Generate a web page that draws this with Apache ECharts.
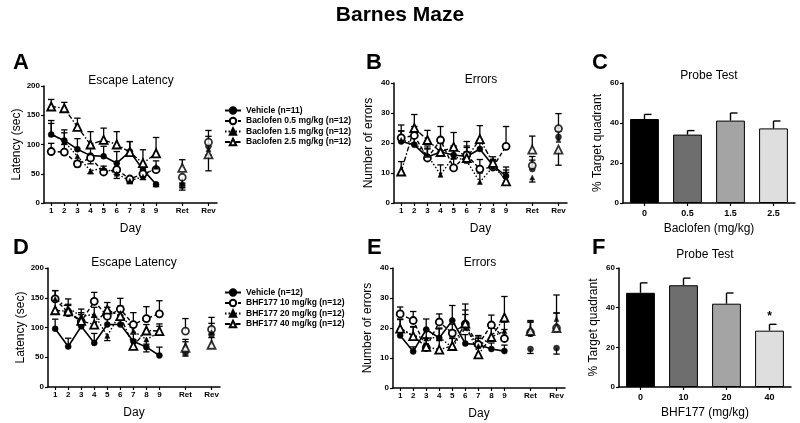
<!DOCTYPE html>
<html><head><meta charset="utf-8">
<script src="https://cdn.jsdelivr.net/npm/echarts@6/dist/echarts.min.js"></script>
<style>html,body{margin:0;padding:0;background:#fff}#c{width:800px;height:423px}</style>
</head><body><div id="c"></div>
<script>
// ---------- data ----------
const dayLabels = ['1','2','3','4','5','6','7','8','9','Ret','Rev'];
const daySlots  = [1,2,3,4,5,6,7,8,9,11,13];

// Panel A: Baclofen escape latency (sec)
const bacNames = ['Vehicle (n=11)','Baclofen 0.5 mg/kg (n=12)','Baclofen 1.5 mg/kg (n=12)','Baclofen 2.5 mg/kg (n=12)'];
const vehA  = [117,107, 92, 81, 80, 68, 88, 57, 32, 30, 97];
const b05A  = [ 88, 87, 67, 77, 53, 57, 41, 50, 57, 44,104];
const b15A  = [118,105, 80, 55, 60, 50, 38, 45, 62, 34, 92];
const b25A  = [165,162,130,100,108,100, 87, 68, 85, 60, 83];
const vehSemA = [24, 18, 18, 17, 17, 20, 17, 10, -4, -8, 17];
const b05SemA = [14, 13, -5,-10, 10, -8, -6, -6, 15,-10, 20];
const b15SemA = [18, 15,-12, -5, -8, -8, -5, -5, -8, -8,-10];
const b25SemA = [12, 10, 15, 22, 20, 22, 18, 23, 27, 14,-28];

// Panel B: Baclofen number of errors
const vehB  = [20.5,19.4,15.3,17.0,16.0,15.5,18.0,12.5, 9.0,11.3,22.0];
const b05B  = [21.7,22.5,15.0,21.0,11.7,16.0,11.3,12.0,18.9,12.5,24.8];
const b15B  = [21.0,20.0,16.0, 9.4,15.5,14.0, 7.0,12.0, 8.0, 8.5,21.0];
const b25B  = [10.5,25.0,21.0,17.0,18.7,15.0,21.3,13.4, 7.2,17.8,17.8];
const vehSemB = [3.5,3,3,3,3,3,3,2,3,3,3];
const b05SemB = [4.3,3,3,4.5,3,3,3.2,2,6.6,3,5];
const b15SemB = [3,3,3,3.3,3,3,3,2,3,-1.5,3];
const b25SemB = [3.3,4.5,3.2,3,4.8,5.5,4.5,2,3,4.5,-5.2];

// Panel C: Baclofen probe test
const bacDoses = ['0','0.5','1.5','2.5'];
const bacProbe = [42.0,34.2,41.2,37.3];
const bacProbeSem = [2.3,2.0,3.8,3.7];
const bacSig = ['','','',''];

// Panel D: BHF177 escape latency (sec)
const bhfNames = ['Vehicle (n=12)','BHF177 10 mg/kg (n=12)','BHF177 20 mg/kg (n=12)','BHF177 40 mg/kg (n=12)'];
const vehD  = [ 98, 68,102, 74,105,105, 77, 67, 53, 57, 88];
const b10D  = [148,125,110,144,119,131,105,115,123, 94, 97];
const b20D  = [148,133,119,122, 86,124, 94, 80, 92, 70, 92];
const b40D  = [129,127,111,105,130,119, 69, 95, 94, 66, 71];
const vehSemD = [16,14,10,16,12,15,12,-8,14,-5,12];
const b10SemD = [14,12,12,15,15,18,20,20,22,21,20];
const b20SemD = [14,15,12,12,-8,12,12,-8,10,10,15];
const b40SemD = [18,12,14,12,12,12,10,10,12,10,12];

// Panel E: BHF177 number of errors
const vehE  = [17.5,12.2,19.5,16.7,22.5,14.8,14.5,13.0,12.3,13.0,13.3];
const b10E  = [24.7,22.5,13.5,22.0,18.3,21.3,14.5,21.0,16.5,18.5,20.0];
const b20E  = [20.0,17.5,16.5,17.0,13.5,20.0,14.0,17.0,19.0,18.0,23.0];
const b40E  = [19.8,17.3,13.7,12.8,14.0,21.5,11.2,17.0,23.5,19.0,20.0];
const vehSemE = [2,1.5,3.5,3,5,3,2,2,2,-1.5,-2];
const b10SemE = [2.3,3,3,2.7,3,6.7,3,3.3,3,4,5];
const b20SemE = [3,3,3,3,3,6,3,3,3,4,8];
const b40SemE = [3,3,3,3,3,3,3,3,7,3,5];

// Panel F: BHF177 probe test
const bhfDoses = ['0','10','20','40'];
const bhfProbe = [47.5,51.3,42.0,28.4];
const bhfProbeSem = [5.0,3.6,5.4,3.2];
const bhfSig = ['','','','*'];

// ---------- styling ----------
const FONT = '"Liberation Sans", Arial, Helvetica, sans-serif';
const barColors = ['#000000','#6e6e6e','#a4a4a4','#dedede'];
const styles = [
  {symbol:'circle',   size:6, open:false, line:'solid',       lw:1.6},
  {symbol:'circle',   size:7, open:true,  line:[4,2.5],       lw:1.4},
  {symbol:'triangle', size:5, open:false, line:[1.5,2],       lw:1.4},
  {symbol:'triangle', size:8, open:true,  line:[5,2,1.5,2],   lw:1.4}
];

function errRender(params, api) {
  const x = api.value(0), y = api.value(1), e = api.value(2);
  const p0 = api.coord([x, y]);
  const p1 = api.coord([x, y + e]);
  const w = 3.2;
  return {type:'group', children:[
    {type:'line', shape:{x1:p0[0],y1:p0[1],x2:p1[0],y2:p1[1]}, style:{stroke:'#000',lineWidth:1.3}},
    {type:'line', shape:{x1:p1[0]-w,y1:p1[1],x2:p1[0]+w,y2:p1[1]}, style:{stroke:'#000',lineWidth:1.3}}
  ]};
}

function lineGroup(names, valsList, semsList, ax) {
  const out = [];
  names.forEach((nm, k) => {
    const st = styles[k];
    const vals = valsList[k], sems = semsList[k];
    const pts = vals.map((v, i) => [daySlots[i], v]);
    const itemStyle = st.open
      ? {color:'#fff', borderColor:'#000', borderWidth:1.8}
      : {color:'#000', borderColor:'#000', borderWidth:0.5};
    out.push({type:'line', name:nm, xAxisIndex:ax, yAxisIndex:ax, z:4,
      data: pts.slice(0, 9), symbol:st.symbol, symbolSize:st.size, showAllSymbol:true,
      itemStyle, lineStyle:{color:'#000', width:st.lw, type:st.line}});
    out.push({type:'scatter', name:nm, xAxisIndex:ax, yAxisIndex:ax, z:4,
      data: pts.slice(9), symbol:st.symbol, symbolSize:st.size, itemStyle});
    out.push({type:'custom', name:nm, xAxisIndex:ax, yAxisIndex:ax, z:2, silent:true,
      renderItem: errRender, encode:{x:0, y:1},
      data: vals.map((v, i) => [daySlots[i], v, sems[i]])});
  });
  return out;
}

function barGroup(vals, sems, sig, ax) {
  return [
    {type:'bar', xAxisIndex:ax, yAxisIndex:ax, barWidth:'67%', z:2,
      data: vals.map((v, i) => ({value:v, itemStyle:{color:barColors[i], borderColor:'#000', borderWidth:1}}))},
    {type:'custom', xAxisIndex:ax, yAxisIndex:ax, z:3, silent:true, encode:{x:0, y:1},
      data: vals.map((v, i) => [i, v, sems[i]]),
      renderItem: function (params, api) {
        const x = api.value(0), y = api.value(1), e = api.value(2);
        const p0 = api.coord([x, y]), p1 = api.coord([x, y + e]);
        const w = 7;
        const ch = [
          {type:'line', shape:{x1:p0[0],y1:p0[1],x2:p1[0],y2:p1[1]}, style:{stroke:'#000',lineWidth:1.4}},
          {type:'line', shape:{x1:p1[0],y1:p1[1],x2:p1[0]+w,y2:p1[1]}, style:{stroke:'#000',lineWidth:1.4}}
        ];
        const s = sig[params.dataIndex];
        if (s) ch.push({type:'text', style:{text:s, x:p1[0], y:p1[1]-2, align:'center', verticalAlign:'bottom',
          font:'bold 12px ' + FONT, fill:'#000'}});
        return {type:'group', children:ch};
      }}
  ];
}

const axLine = {show:true, lineStyle:{color:'#000', width:1.5}};
const axTick = {show:true, length:3, lineStyle:{color:'#000', width:1.2}};
const axLabel = {color:'#000', fontSize:8, fontWeight:'bold', fontFamily:FONT, margin:4};
const nameStyle = {color:'#000', fontSize:12, fontFamily:FONT};

function dayXAxis(g) {
  return {gridIndex:g, type:'value', min:0.45, max:13.65,
    axisLine:axLine,
    axisTick:Object.assign({}, axTick, {customValues:daySlots}),
    axisLabel:Object.assign({}, axLabel, {customValues:daySlots,
      formatter: v => { const i = daySlots.indexOf(v); return i >= 0 ? dayLabels[i] : ''; }}),
    splitLine:{show:false},
    name:'Day', nameLocation:'middle', nameGap:20, nameTextStyle:nameStyle};
}
function catXAxis(g, cats, nm) {
  return {gridIndex:g, type:'category', data:cats,
    axisLine:axLine, axisTick:Object.assign({}, axTick, {alignWithLabel:true}),
    axisLabel:Object.assign({}, axLabel, {fontSize:9, margin:6}),
    name:nm, nameLocation:'middle', nameGap:20, nameTextStyle:nameStyle};
}
function yAx(g, max, interval, nm) {
  return {gridIndex:g, type:'value', min:0, max, interval,
    axisLine:axLine, axisTick:axTick, axisLabel:axLabel, splitLine:{show:false},
    name:nm, nameLocation:'middle', nameGap:19, nameTextStyle:nameStyle};
}

function ttl(text, left, top, size, weight, align) {
  return {text, left, top, padding:0, textAlign:align || 'left',
    textStyle:{fontSize:size, fontWeight:weight, fontFamily:FONT, color:'#000'}};
}

const legendStyle = {orient:'vertical', itemWidth:16, itemHeight:8, itemGap:1.5, selectedMode:false,
  textStyle:{fontSize:8.5, fontWeight:'bold', fontFamily:FONT, color:'#000'}, padding:0};

const option = {
  animation:false,
  backgroundColor:'#fff',
  title:[
    ttl('Barnes Maze', 400, 5, 21, 'bold', 'center'),
    ttl('A', 13, 52, 22, 'bold'), ttl('B', 366, 52, 22, 'bold'), ttl('C', 592, 52, 22, 'bold'),
    ttl('D', 13, 237, 22, 'bold'), ttl('E', 367, 237, 22, 'bold'), ttl('F', 592, 237, 22, 'bold'),
    ttl('Escape Latency', 131, 75, 12, 'normal', 'center'),
    ttl('Errors', 481, 74, 12, 'normal', 'center'),
    ttl('Probe Test', 709, 70, 12, 'normal', 'center'),
    ttl('Escape Latency', 134, 257, 12, 'normal', 'center'),
    ttl('Errors', 480, 257, 12, 'normal', 'center'),
    ttl('Probe Test', 705, 249, 12, 'normal', 'center')
  ],
  legend:[
    Object.assign({left:224, top:106, data:bacNames}, legendStyle),
    Object.assign({left:224, top:288, data:bhfNames}, legendStyle)
  ],
  grid:[
    {left:44,  top:86,  width:173, height:117},
    {left:394, top:83,  width:173, height:120},
    {left:623, top:83,  width:172, height:120},
    {left:48,  top:268, width:172, height:119},
    {left:393, top:268, width:172, height:120},
    {left:619, top:268, width:172, height:119}
  ],
  xAxis:[
    dayXAxis(0), dayXAxis(1), catXAxis(2, bacDoses, 'Baclofen (mg/kg)'),
    dayXAxis(3), dayXAxis(4), catXAxis(5, bhfDoses, 'BHF177 (mg/kg)')
  ],
  yAxis:[
    yAx(0, 200, 50, 'Latency (sec)'), yAx(1, 40, 10, 'Number of errors'), yAx(2, 60, 20, '% Target quadrant'),
    yAx(3, 200, 50, 'Latency (sec)'), yAx(4, 40, 10, 'Number of errors'), yAx(5, 60, 20, '% Target quadrant')
  ],
  series:[].concat(
    lineGroup(bacNames, [vehA,b05A,b15A,b25A], [vehSemA,b05SemA,b15SemA,b25SemA], 0),
    lineGroup(bacNames, [vehB,b05B,b15B,b25B], [vehSemB,b05SemB,b15SemB,b25SemB], 1),
    barGroup(bacProbe, bacProbeSem, bacSig, 2),
    lineGroup(bhfNames, [vehD,b10D,b20D,b40D], [vehSemD,b10SemD,b20SemD,b40SemD], 3),
    lineGroup(bhfNames, [vehE,b10E,b20E,b40E], [vehSemE,b10SemE,b20SemE,b40SemE], 4),
    barGroup(bhfProbe, bhfProbeSem, bhfSig, 5)
  )
};

const chart = echarts.init(document.getElementById('c'), null, {renderer:'canvas'});
chart.setOption(option);
</script>
</body></html>
